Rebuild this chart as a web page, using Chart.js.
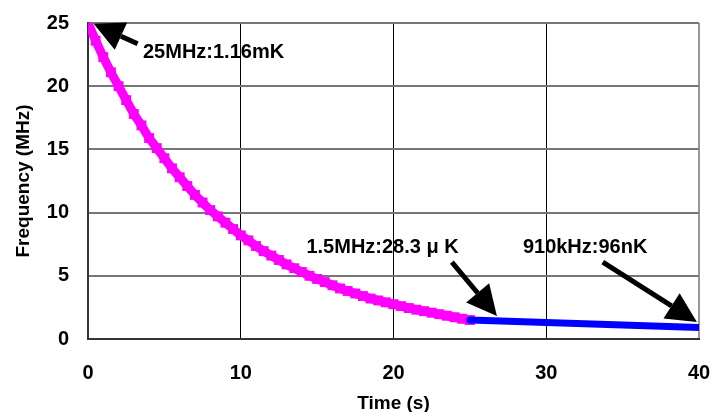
<!DOCTYPE html>
<html>
<head>
<meta charset="utf-8">
<script src="https://cdn.jsdelivr.net/npm/chart.js@4.4.1/dist/chart.umd.min.js"></script>
<style>
  html, body { margin: 0; padding: 0; background: #fff; }
  #wrap { width: 724px; height: 412px; }
</style>
</head>
<body>
<div id="wrap"><canvas id="freq"></canvas></div>
<script>
// cooling ramp: time (s) and trap frequency (MHz)
const coolTime = [0, 0.5, 1, 1.5, 2, 2.5, 3, 3.5, 4, 4.5, 5, 5.5, 6, 6.5, 7, 7.5, 8, 8.5, 9, 9.5,
    10, 10.5, 11, 11.5, 12, 12.5, 13, 13.5, 14, 14.5, 15, 15.5, 16, 16.5, 17, 17.5, 18, 18.5, 19, 19.5,
    20, 20.5, 21, 21.5, 22, 22.5, 23, 23.5, 24, 24.5, 25];
const coolFreq = [25, 23.6, 22.3, 21.1, 20.0, 18.9, 17.8, 16.9, 15.9, 15.1, 14.3, 13.5, 12.8, 12.1, 11.4, 10.8, 10.2, 9.7, 9.2, 8.7,
    8.2, 7.8, 7.35, 6.95, 6.6, 6.25, 5.9, 5.6, 5.3, 5.0, 4.75, 4.5, 4.25, 4.0, 3.8, 3.6, 3.4, 3.2, 3.05, 2.9,
    2.75, 2.6, 2.45, 2.32, 2.2, 2.08, 1.96, 1.84, 1.72, 1.6, 1.5];
// slow part after 25 s
const holdTime = [25, 30, 35, 40];
const holdFreq = [1.5, 1.3, 1.1, 0.91];
const xTicks = [0, 10, 20, 30, 40];
const yTicks = [0, 5, 10, 15, 20, 25];

// annotations: label anchor + arrow, in data units
const notes = [
    { text: '25MHz:1.16mK', tx: 3.6, ty: 22.65, from: [3.25, 23.36], to: [0.37, 24.94] },
    { text: '1.5MHz:28.3 \u03bc K', tx: 14.3, ty: 7.26, from: [23.82, 6.08], to: [26.77, 1.82] },
    { text: '910kHz:96nK', tx: 28.47, ty: 7.26, from: [33.7, 6.08], to: [39.86, 1.34] }
];

const FONT = "'Liberation Sans', Arial, sans-serif";

const arrowPlugin = {
    id: 'arrows',
    afterDatasetsDraw(chart) {
        const { ctx, scales: { x, y } } = chart;
        ctx.save();
        ctx.fillStyle = '#000';
        ctx.strokeStyle = '#000';
        ctx.font = 'bold 20px ' + FONT;
        ctx.textBaseline = 'middle';
        notes.forEach(n => {
            const x1 = x.getPixelForValue(n.from[0]), y1 = y.getPixelForValue(n.from[1]);
            const x2 = x.getPixelForValue(n.to[0]), y2 = y.getPixelForValue(n.to[1]);
            const a = Math.atan2(y2 - y1, x2 - x1);
            const len = 30, half = 15;
            const bx = x2 - len * Math.cos(a), by = y2 - len * Math.sin(a);
            ctx.lineWidth = 5;
            ctx.beginPath();
            ctx.moveTo(x1, y1);
            ctx.lineTo(bx, by);
            ctx.stroke();
            ctx.beginPath();
            ctx.moveTo(x2, y2);
            ctx.lineTo(bx + half * Math.sin(a), by - half * Math.cos(a));
            ctx.lineTo(bx - half * Math.sin(a), by + half * Math.cos(a));
            ctx.closePath();
            ctx.fill();
            ctx.fillText(n.text, x.getPixelForValue(n.tx), y.getPixelForValue(n.ty));
        });
        ctx.restore();
    }
};

new Chart(document.getElementById('freq'), {
    type: 'scatter',
    data: {
        datasets: [{
            data: holdTime.map((t, i) => ({ x: t, y: holdFreq[i] })),
            showLine: true,
            borderColor: '#0000ff',
            borderWidth: 7,
            borderCapStyle: 'round',
            pointRadius: 0,
            tension: 0
        }, {
            data: coolTime.map((t, i) => ({ x: t, y: coolFreq[i] })),
            showLine: true,
            borderColor: '#ff00ff',
            backgroundColor: '#ff00ff',
            borderWidth: 9,
            pointStyle: 'rect',
            pointRadius: 7,
            pointBorderColor: '#ff00ff',
            pointBackgroundColor: '#ff00ff',
            pointBorderWidth: 0,
            tension: 0
        }]
    },
    options: {
        responsive: true,
        maintainAspectRatio: false,
        animation: false,
        layout: { padding: { left: 0, right: 25, top: 23, bottom: 0 } },
        plugins: { legend: { display: false }, tooltip: { enabled: false } },
        scales: {
            x: {
                type: 'linear', min: 0, max: 40,
                afterBuildTicks: s => { s.ticks = xTicks.map(v => ({ value: v })); },
                afterFit: s => { s.height = 73; s.paddingLeft = 0; s.paddingRight = 0; },
                grid: {
                    color: c => c.tick && c.tick.value === 40 ? '#999' : '#000',
                    lineWidth: c => c.tick && c.tick.value === 40 ? 2 : 1,
                    drawTicks: false
                },
                border: { color: '#333', width: 2 },
                ticks: { color: '#000', padding: 22, font: { family: FONT, size: 20, weight: 'bold' } },
                title: {
                    display: true, text: 'Time (s)', color: '#000',
                    font: { family: FONT, size: 19, weight: 'bold', lineHeight: 1 },
                    padding: { top: 0, bottom: -1 }
                }
            },
            y: {
                type: 'linear', min: 0, max: 25,
                afterBuildTicks: s => { s.ticks = yTicks.map(v => ({ value: v })); },
                afterFit: s => { s.width = 88; s.paddingTop = 0; s.paddingBottom = 0; },
                grid: { color: '#777', lineWidth: 2, drawTicks: false },
                border: { color: '#333', width: 2 },
                ticks: { color: '#000', padding: 19, font: { family: FONT, size: 20, weight: 'bold' } },
                title: {
                    display: true, text: 'Frequency (MHz)', color: '#000',
                    font: { family: FONT, size: 19, weight: 'bold', lineHeight: 1.2 },
                    padding: { top: 12, bottom: 0 }
                }
            }
        }
    },
    plugins: [arrowPlugin]
});
</script>
</body>
</html>
